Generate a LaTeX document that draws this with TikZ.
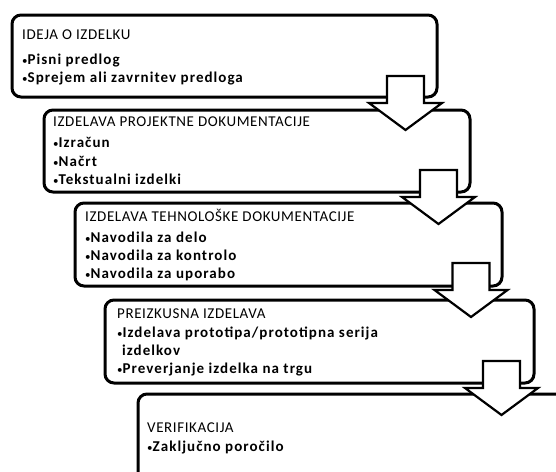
\documentclass[tikz,border=0pt]{standalone}
\usepackage{fontspec}
\setmainfont{Carlito}
\newfontfamily\ttlfont[LetterSpace=4]{Carlito}
\newfontfamily\itmfont[LetterSpace=7]{Carlito}
\usetikzlibrary{calc}
\newcommand{\bul}{{\mdseries\fontsize{11}{12}\selectfont •}}
\tikzset{
  procbox/.style={draw=black, line width=3pt, rounded corners=9pt, fill=white,
    rectangle, outer sep=0pt, inner sep=0pt, anchor=north west},
  ttl/.style={anchor=base west, inner sep=0pt, font=\ttlfont\fontsize{15}{17}\selectfont},
  itm/.style={anchor=base west, inner sep=0pt, font=\itmfont\fontsize{15}{17}\selectfont\bfseries},
  barrow/.style={draw=black, line width=2.2pt, fill=white, line join=miter},
}
\newcommand{\blockarr}[1]{%
  \draw[barrow] (#1) ++(-18.5,0) -- ++(37,0) -- ++(0,27) -- ++(18,0)
    -- ++(-36.5,27) -- ++(-36.5,-27) -- ++(18,0) -- cycle;}
\begin{document}
\begin{tikzpicture}[x=1pt,y=-1pt]
\useasboundingbox (0,0) rectangle (556,471);
\clip (0,0) rectangle (556,471);
\fill[white] (0,0) rectangle (556,471);

\node[procbox, minimum width=425pt, minimum height=82pt] (b1) at (12,15) {};
\node[procbox, minimum width=426pt, minimum height=82pt] (b2) at (44,110) {};
\node[procbox, minimum width=427pt, minimum height=83pt] (b3) at (75,203) {};
\node[procbox, minimum width=429pt, minimum height=83pt] (b4) at (105,300) {};
\node[procbox, minimum width=460pt, minimum height=120pt] (b5) at (138,394) {};

\node[ttl] (t1) at ($(b1.north west)+(10,24.5)$) {IDEJA O IZDELKU};
\node[itm] (t1a) at ($(b1.north west)+(10,49.5)$) {\bul Pisni predlog};
\node[itm] (t1b) at ($(b1.north west)+(10,67.5)$) {\bul Sprejem ali zavrnitev predloga};

\node[ttl] (t2) at ($(b2.north west)+(9,16.5)$) {IZDELAVA PROJEKTNE DOKUMENTACIJE};
\node[itm] (t2a) at ($(b2.north west)+(9,37.5)$) {\bul Izračun};
\node[itm] (t2b) at ($(b2.north west)+(9,56.5)$) {\bul Načrt};
\node[itm] (t2c) at ($(b2.north west)+(9,74.5)$) {\bul Tekstualni izdelki};

\node[ttl] (t3) at ($(b3.north west)+(10,18.5)$) {IZDELAVA TEHNOLOŠKE DOKUMENTACIJE};
\node[itm] (t3a) at ($(b3.north west)+(10,39.5)$) {\bul Navodila za delo};
\node[itm] (t3b) at ($(b3.north west)+(10,57.5)$) {\bul Navodila za kontrolo};
\node[itm] (t3c) at ($(b3.north west)+(10,75.5)$) {\bul Navodila za uporabo};

\node[ttl] (t4) at ($(b4.north west)+(12,18.5)$) {PREIZKUSNA IZDELAVA};
\node[itm] (t4a) at ($(b4.north west)+(12,37.5)$) {\bul Izdelava prototipa/prototipna serija};
\node[itm] (t4b) at ($(b4.north west)+(17,55.5)$) {izdelkov};
\node[itm] (t4c) at ($(b4.north west)+(12,73.5)$) {\bul Preverjanje izdelka na trgu};

\node[ttl] (t5) at ($(b5.north west)+(9,38.5)$) {VERIFIKACIJA};
\node[itm] (t5a) at ($(b5.north west)+(9,57.5)$) {\bul Zaključno poročilo};

\coordinate (a1) at ($(b1.south east)+(-31.5,-21)$);
\coordinate (a2) at ($(b2.south east)+(-31.5,-22)$);
\coordinate (a3) at ($(b3.south east)+(-31,-23)$);
\coordinate (a4) at ($(b4.south east)+(-32.5,-22)$);
\blockarr{a1}
\blockarr{a2}
\blockarr{a3}
\blockarr{a4}
\end{tikzpicture}
\end{document}
